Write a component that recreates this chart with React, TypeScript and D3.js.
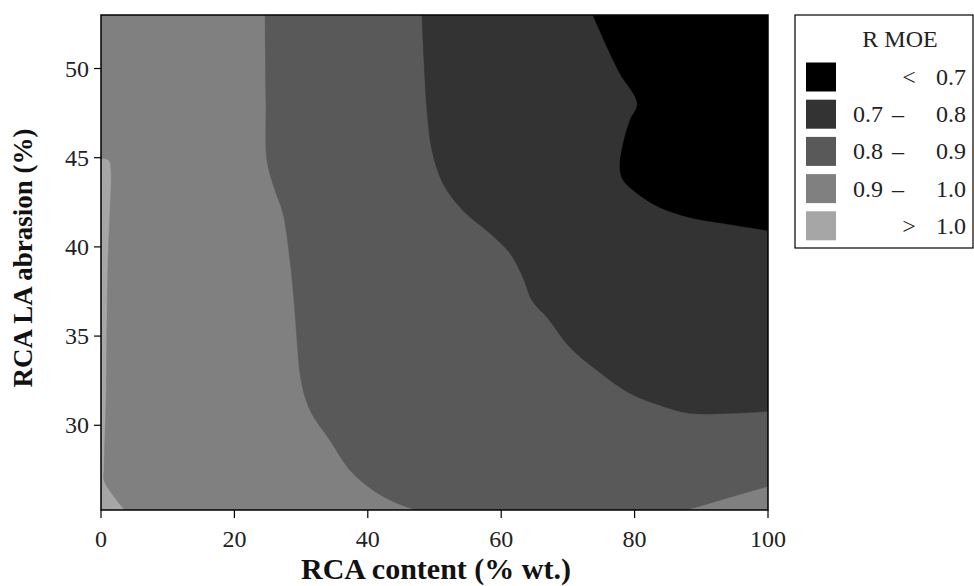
import React from 'react';
import * as d3 from 'd3';

// ---- data ----
const xTicks = [0, 20, 40, 60, 80, 100];
const yTicks = [30, 35, 40, 45, 50];
const xDomain = [0, 100];
const yDomain = [25.25, 53];

const levelLabels = [
  ['', '<', '0.7'],
  ['0.7', '–', '0.8'],
  ['0.8', '–', '0.9'],
  ['0.9', '–', '1.0'],
  ['', '>', '1.0'],
];
const levelColors = ['#000000', '#333333', '#595959', '#808080', '#a6a6a6'];

// contour boundaries, in data units [RCA content, LA abrasion]
const boundary10 = [
  [0, 44.96], [1.2, 44.85], [1.5, 44.29], [1.35, 42.04], [1.05, 39.24], [0.9, 35.88],
  [0.75, 31.4], [0.45, 27.48], [0.45, 26.92], [1.8, 26.08], [3.6, 25.24],
];
const boundary09 = [
  [24.6, 52.97], [24.74, 48.21], [24.89, 44.85], [26.09, 43.17], [27.29, 41.88],
  [28.34, 39.24], [28.94, 37.0], [29.39, 34.76], [29.99, 32.52], [31.33, 30.84],
  [34.33, 29.16], [37.33, 27.48], [40.78, 26.36], [44.38, 25.63], [47.38, 25.24],
];
const boundary09b = [
  [87.56, 25.24], [91.3, 25.63], [95.8, 26.13], [100, 26.58],
];
const boundary08 = [
  [48.13, 52.97], [48.43, 50.45], [48.88, 47.65], [49.63, 45.41], [51.27, 43.56],
  [54.27, 42.04], [58.32, 40.76], [61.32, 39.64], [63.27, 38.29], [64.62, 37.0],
  [66.87, 36.05], [70.31, 34.37], [74.36, 33.08], [79.31, 31.79], [83.81, 31.12],
  [88.31, 30.67], [94.3, 30.67], [100, 30.78],
];
const boundary07 = [
  [73.8, 52.97], [75.9, 51.18], [77.8, 49.72], [80.4, 48.04], [79.3, 47.09],
  [78.3, 45.8], [77.8, 44.45], [78.3, 43.73], [80.4, 43.0], [83.8, 42.21],
  [88.3, 41.65], [93.3, 41.32], [100, 40.92],
];

const W = 974;
const H = 586;
const M = { left: 101, right: 768, top: 15, bottom: 510 };
const serif = "'Liberation Serif', 'Times New Roman', serif";

export default function App() {
  const x = d3.scaleLinear().domain(xDomain).range([M.left, M.right]);
  const y = d3.scaleLinear().domain(yDomain).range([M.bottom, M.top]);
  const curve = d3
    .line<number[]>()
    .x((d) => x(d[0]))
    .y((d) => y(d[1]))
    .curve(d3.curveCatmullRom.alpha(0.5));
  const [x0, x1] = xDomain;
  const [y0, y1] = yDomain;
  const P = (p: number[]) => `${x(p[0])},${y(p[1])}`;
  const seg = (pts: number[][]) => (curve(pts) || '').replace(/^M/, 'L');
  const corners = (pts: number[][]) => pts.map((p) => 'L' + P(p)).join('');

  const regions = [
    {
      color: levelColors[3],
      d: 'M' + P([x0, y1]) + corners([[x1, y1], [x1, y0]]) + seg([...boundary10].reverse()) + 'Z',
    },
    {
      color: levelColors[2],
      d: curve(boundary09) + seg(boundary09b) + corners([[x1, y1]]) + 'Z',
    },
    { color: levelColors[1], d: curve(boundary08) + corners([[x1, y1]]) + 'Z' },
    { color: levelColors[0], d: curve(boundary07) + corners([[x1, y1]]) + 'Z' },
  ];

  return (
    <svg
      width={W}
      height={H}
      style={{ position: 'absolute', left: 0, top: 0, background: '#fff' }}
      fontFamily={serif}
    >
      <defs>
        <clipPath id="plotClip">
          <rect x={M.left} y={M.top} width={M.right - M.left} height={M.bottom - M.top} />
        </clipPath>
      </defs>
      <g clipPath="url(#plotClip)">
        <rect
          x={M.left}
          y={M.top}
          width={M.right - M.left}
          height={M.bottom - M.top}
          fill={levelColors[4]}
        />
        {regions.map((r, i) => (
          <path key={i} d={r.d} fill={r.color} stroke={r.color} strokeWidth={0.5} />
        ))}
      </g>
      <rect
        x={M.left}
        y={M.top}
        width={M.right - M.left}
        height={M.bottom - M.top}
        fill="none"
        stroke="#000"
        strokeWidth={1.5}
      />
      {/* x axis */}
      {xTicks.map((t) => (
        <g key={'x' + t}>
          <line x1={x(t)} x2={x(t)} y1={M.bottom} y2={M.bottom + 8} stroke="#000" strokeWidth={1.2} />
          <text x={x(t)} y={547} textAnchor="middle" fontSize={24} fill="#222">
            {t}
          </text>
        </g>
      ))}
      {/* y axis */}
      {yTicks.map((t) => (
        <g key={'y' + t}>
          <line x1={M.left - 7} x2={M.left} y1={y(t)} y2={y(t)} stroke="#000" strokeWidth={1.2} />
          <text x={89} y={y(t) + 8} textAnchor="end" fontSize={24} fill="#222">
            {t}
          </text>
        </g>
      ))}
      <text x={436} y={579} textAnchor="middle" fontSize={30} fontWeight="bold" fill="#111">
        RCA content (% wt.)
      </text>
      <text
        transform="translate(32,258) rotate(-90)"
        textAnchor="middle"
        fontSize={27}
        fontWeight="bold"
        fill="#111"
      >
        RCA LA abrasion (%)
      </text>
      {/* legend */}
      <rect x={795} y={15} width={178} height={233} fill="#fff" stroke="#000" strokeWidth={1.2} />
      <text x={900} y={47} textAnchor="middle" fontSize={24} fill="#222">
        R MOE
      </text>
      {levelLabels.map((lab, i) => {
        const cy = 77 + i * 37.2;
        return (
          <g key={'l' + i}>
            <rect x={806} y={cy - 14.5} width={30} height={29} fill={levelColors[i]} />
            {lab[0] && (
              <text x={853} y={cy + 8} fontSize={24} fill="#222">
                {lab[0]}
              </text>
            )}
            <text x={lab[0] ? 898 : 909} y={cy + 8} textAnchor="middle" fontSize={24} fill="#222">
              {lab[1]}
            </text>
            <text x={966} y={cy + 8} textAnchor="end" fontSize={24} fill="#222">
              {lab[2]}
            </text>
          </g>
        );
      })}
    </svg>
  );
}
